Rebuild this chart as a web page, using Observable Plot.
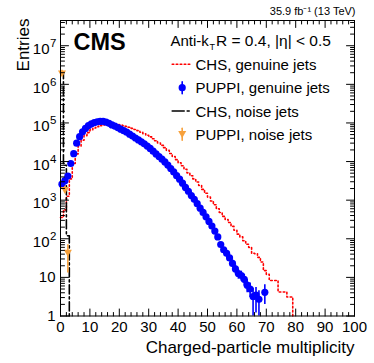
<!DOCTYPE html>
<html><head><meta charset="utf-8">
<script src="https://cdn.jsdelivr.net/npm/d3@7"></script>
<script src="https://cdn.jsdelivr.net/npm/@observablehq/plot@0.6"></script>
<style>body{margin:0;background:#fff}</style>
</head><body><div id="chart"></div>
<script>
// ---- data (bin index = charged-particle multiplicity, bins of width 1) ----
const puppiGenuine = [2600,3200,4200,8900,16000,30000,44000,59000,72000,85000,
  95000,102000,107000,110000,110000,105000,98000,89000,83000,76000,
  69000,63000,57500,51300,45700,40700,36300,32400,28800,25100,
  21900,18600,15800,13500,11500,9800,8100,6600,5400,4300,
  3500,2750,2140,1700,1320,1050,810,620,480,370,
  282,214,158,112,71,52,42,32,23,16.6,
  12.6,11.2,8.9,6.3,5.0,3.2,3.5,2.7,null,4.1];
const puppiErrStart = 55;
const puppiGenuineErrLo = [44,35,26,18,12.5,9,8,6,4,3,1,1.2,1,null,2];
const puppiGenuineErrHi = [60,49,38,28,21,16,14.5,12,8.8,7.2,5.2,5.5,4.5,null,6.4];
const chsGenuine = [355,560,1260,3550,8900,15800,25100,35500,46800,56200,
  66100,74100,79400,85100,89100,91200,93300,93300,93300,91200,
  89100,85100,81300,77600,72400,67600,63100,57500,52500,47900,
  43700,38900,34700,30200,26300,22900,19500,16200,13500,11200,
  9300,7800,6300,5100,4300,3550,2950,2400,1900,1510,
  1200,955,760,600,480,380,316,263,209,166,
  132,112,89,72,60,42,41,33,25,15,
  12,8.3,8.3,8.3,4.2,4.2,4.2,3.1,3.1];
const chsNoise = [2000000, 8000, 120];
const puppiNoise = [2000000, 1900, 45];
const puppiNoiseLo = [1700000, 1500, 13];
const puppiNoiseHi = [2300000, 2300, 70];
const xTickLabels = [0,10,20,30,40,50,60,70,80,90,100];
const yTickExponents = [0,1,2,3,4,5,6,7];
const legendLabels = ["CHS, genuine jets","PUPPI, genuine jets","CHS, noise jets","PUPPI, noise jets"];

// ---- styles ----
const blue = "#0000ff", red = "#ff0000", orange = "#f7a13c";
const redDash = "1.6,2.4";
const yFloor = 1, yMax = 4.5e7;
const lineSeg = {draw(ctx, l) { ctx.moveTo(0, 0); ctx.lineTo(0, -l); }};

// ---- tables built from the arrays ----
const blueData = puppiGenuine.map((v, i) => ({x: i + 0.5, y: v})).filter(d => d.y != null);
const blueErr = puppiGenuineErrLo.map((lo, i) => ({x: puppiErrStart + i + 0.5, lo, hi: puppiGenuineErrHi[i]})).filter(d => d.lo != null);
const redStep = chsGenuine.map((v, i) => ({x: i, y: v})).concat([{x: chsGenuine.length, y: yFloor}]);
const blackStep = chsNoise.map((v, i) => ({x: i, y: v})).concat([{x: chsNoise.length, y: yFloor}]);
const orangeData = puppiNoise.map((v, i) => ({x: i + 0.5, y: v, lo: puppiNoiseLo[i], hi: puppiNoiseHi[i]}));

const xMinor = d3.range(0, 101, 2).filter(d => d % 10 !== 0);
const yMinor = [];
for (let k = 0; k <= 7; k++) for (let m = 2; m <= 9; m++) if (m * 10 ** k <= yMax) yMinor.push(m * 10 ** k);
const yMajor = yTickExponents.map(k => 10 ** k);

const tick = (data, o) => Plot.vector(data, {anchor: "start", shape: lineSeg, stroke: "black", strokeWidth: 1, ...o});

const legendRows = [63.8, 87.2, 110.5, 133.8];

const chart = Plot.plot({
  width: 374, height: 363,
  marginLeft: 60, marginRight: 20, marginTop: 20, marginBottom: 47.5,
  style: {fontFamily: "'Liberation Sans', Arial, Helvetica, sans-serif", fontSize: "15px", color: "black", background: "white"},
  x: {domain: [0, 100], axis: null},
  y: {type: "log", domain: [yFloor, yMax], axis: null},
  marks: [
    // data
    Plot.line(redStep, {x: "x", y: "y", curve: "step-after", stroke: red, strokeWidth: 1.6, strokeDasharray: redDash}),
    Plot.line(blackStep, {x: "x", y: "y", curve: "step-after", stroke: "black", strokeWidth: 1.6, strokeDasharray: "9,3,2,3"}),
    Plot.ruleX(blueErr, {x: "x", y1: "lo", y2: "hi", stroke: blue, strokeWidth: 1.6}),
    Plot.dot(blueData, {x: "x", y: "y", r: 3.6, fill: blue}),
    Plot.ruleX(orangeData, {x: "x", y1: "lo", y2: "hi", stroke: orange, strokeWidth: 1.6}),
    Plot.dot(orangeData, {x: "x", y: "y", symbol: "triangle", rotate: 180, r: 3, fill: orange}),
    // frame and ticks (ticks drawn inward on all four sides)
    Plot.frame({stroke: "black", strokeWidth: 1}),
    tick(xMinor, {x: d => d, frameAnchor: "bottom", rotate: 0, length: 3.5}),
    tick(xTickLabels, {x: d => d, frameAnchor: "bottom", rotate: 0, length: 7}),
    tick(xMinor, {x: d => d, frameAnchor: "top", rotate: 180, length: 3.5}),
    tick(xTickLabels, {x: d => d, frameAnchor: "top", rotate: 180, length: 7}),
    tick(yMinor, {y: d => d, frameAnchor: "left", rotate: 90, length: 4}),
    tick(yMajor, {y: d => d, frameAnchor: "left", rotate: 90, length: 8}),
    tick(yMinor, {y: d => d, frameAnchor: "right", rotate: -90, length: 4}),
    tick(yMajor, {y: d => d, frameAnchor: "right", rotate: -90, length: 8}),
    // x tick labels
    Plot.text(xTickLabels, {x: d => d, frameAnchor: "bottom", dy: 16, lineAnchor: "bottom", text: d => String(d), fontSize: 15}),
    // y tick labels
    Plot.text(yTickExponents.filter(k => k < 2), {y: d => 10 ** d, frameAnchor: "left", dx: -5, textAnchor: "end", lineAnchor: "middle", text: d => d === 0 ? "1" : "10", fontSize: 15}),
    Plot.text(yTickExponents.filter(k => k >= 2), {y: d => 10 ** d, frameAnchor: "left", dx: -11, dy: 3.5, textAnchor: "end", lineAnchor: "middle", text: () => "10", fontSize: 15}),
    Plot.text(yTickExponents.filter(k => k >= 2), {y: d => 10 ** d, frameAnchor: "left", dx: -4, dy: -2.5, textAnchor: "end", lineAnchor: "middle", text: d => String(d), fontSize: 11.5}),
    // axis titles
    Plot.text(["Charged-particle multiplicity"], {frameAnchor: "bottom-right", dy: 36.5, dx: 0, textAnchor: "end", lineAnchor: "bottom", fontSize: 17}),
    Plot.text(["Entries"], {frameAnchor: "top-left", dx: -32, dy: -2, rotate: -90, textAnchor: "end", lineAnchor: "bottom", fontSize: 17}),
    Plot.text(["35.9 fb\u207B\u00B9 (13 TeV)"], {frameAnchor: "top-right", dx: 1, dy: -6, textAnchor: "end", lineAnchor: "bottom", fontSize: 11}),
    // CMS label
    Plot.text(["CMS"], {frameAnchor: "top-left", dx: 13, dy: 12.5, textAnchor: "start", lineAnchor: "top", fontWeight: "bold", fontSize: 23.5}),
    // legend header
    Plot.text(["Anti-k"], {frameAnchor: "top-left", dx: 110, dy: 25, textAnchor: "start", lineAnchor: "bottom", fontSize: 15}),
    Plot.text(["T"], {frameAnchor: "top-left", dx: 149, dy: 29, textAnchor: "start", lineAnchor: "bottom", fontSize: 9}),
    Plot.text(["R = 0.4, |\u03B7| < 0.5"], {frameAnchor: "top-left", dx: 155.5, dy: 25, textAnchor: "start", lineAnchor: "bottom", fontSize: 15.5}),
    // legend entries
    ...legendLabels.map((t, i) => Plot.text([t], {frameAnchor: "top-left", dx: 135, dy: legendRows[i] - 20 + 5.5, textAnchor: "start", lineAnchor: "bottom", fontSize: 15})),
    Plot.vector([0], {frameAnchor: "top-left", dx: 111.7, dy: legendRows[0] - 20, rotate: 90, anchor: "start", length: 18.3, shape: lineSeg, stroke: red, strokeWidth: 1.6, strokeDasharray: redDash}),
    Plot.vector([0], {frameAnchor: "top-left", dx: 121.7, dy: legendRows[1] - 20, rotate: 0, anchor: "middle", length: 12, shape: lineSeg, stroke: blue, strokeWidth: 1.6}),
    Plot.dot([0], {frameAnchor: "top-left", dx: 121.7, dy: legendRows[1] - 20, r: 3.6, fill: blue}),
    Plot.vector([0], {frameAnchor: "top-left", dx: 111.7, dy: legendRows[2] - 20, rotate: 90, anchor: "start", length: 18.3, shape: lineSeg, stroke: "black", strokeWidth: 1.6, strokeDasharray: "12,3,2,3"}),
    Plot.vector([0], {frameAnchor: "top-left", dx: 121.7, dy: legendRows[3] - 20, rotate: 0, anchor: "middle", length: 12, shape: lineSeg, stroke: orange, strokeWidth: 1.6}),
    Plot.dot([0], {frameAnchor: "top-left", dx: 121.7, dy: legendRows[3] - 20 - 1, symbol: "triangle", rotate: 180, r: 3, fill: orange})
  ]
});
document.getElementById("chart").appendChild(chart);
</script>
</body></html>
